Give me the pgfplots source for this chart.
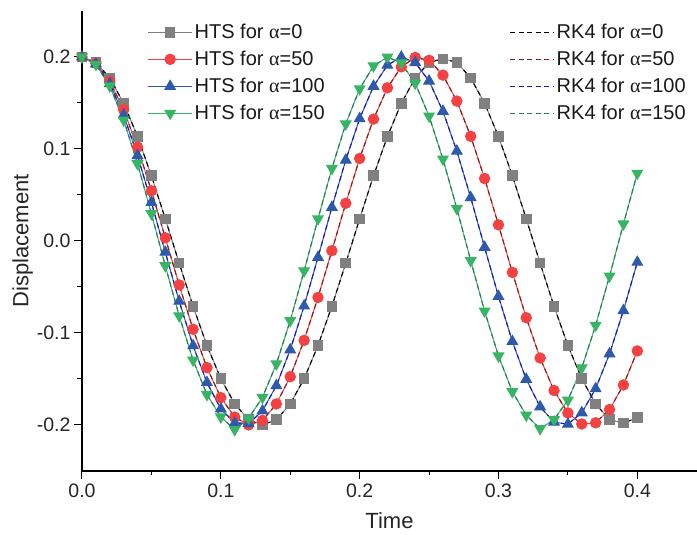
\documentclass[border=0pt]{standalone}
\usepackage{fontspec}
\setmainfont{Liberation Sans}
\newfontfamily\serif{Liberation Serif}
\usepackage{pgfplots}
\usepackage{pgfplotstable}
\pgfplotsset{compat=1.18}
\definecolor{cgray}{RGB}{128,128,128}
\definecolor{cred}{RGB}{245,65,65}
\definecolor{cblue}{RGB}{45,90,170}
\definecolor{cgreen}{RGB}{55,180,100}
\definecolor{dred}{RGB}{140,25,25}
\definecolor{dblue}{RGB}{20,20,210}
\definecolor{dgreen}{RGB}{40,120,90}

\pgfplotstableread{
t a0 a50 a100 a150
0.00 0.2000 0.2000 0.2000 0.2000
0.01 0.1942 0.1933 0.1926 0.1920
0.02 0.1771 0.1738 0.1711 0.1685
0.03 0.1497 0.1427 0.1370 0.1315
0.04 0.1136 0.1020 0.0929 0.0840
0.05 0.0709 0.0546 0.0419 0.0297
0.06 0.0241 0.0035 -0.0122 -0.0269
0.07 -0.0241 -0.0478 -0.0654 -0.0814
0.08 -0.0709 -0.0959 -0.1138 -0.1294
0.09 -0.1136 -0.1377 -0.1538 -0.1670
0.10 -0.1497 -0.1702 -0.1825 -0.1912
0.11 -0.1771 -0.1914 -0.1978 -0.2050
0.12 -0.1942 -0.1999 -0.1985 -0.1927
0.13 -0.2000 -0.1950 -0.1847 -0.1700
0.14 -0.1942 -0.1771 -0.1572 -0.1336
0.15 -0.1771 -0.1475 -0.1183 -0.0866
0.16 -0.1497 -0.1080 -0.0706 -0.0325
0.17 -0.1136 -0.0613 -0.0177 0.0241
0.18 -0.0709 -0.0105 0.0365 0.0789
0.19 -0.0241 0.0410 0.0880 0.1273
0.20 0.0241 0.0897 0.1330 0.1654
0.21 0.0709 0.1325 0.1682 0.1903
0.22 0.1136 0.1665 0.1911 0.1999
0.23 0.1497 0.1893 0.1999 0.1935
0.24 0.1771 0.1995 0.1940 0.1715
0.25 0.1942 0.1964 0.1739 0.1358
0.26 0.1980 0.1803 0.1410 0.0891
0.27 0.1942 0.1521 0.0977 0.0353
0.28 0.1771 0.1138 0.0472 -0.0213
0.29 0.1497 0.0679 -0.0068 -0.0762
0.30 0.1136 0.0175 -0.0602 -0.1250
0.31 0.0709 -0.0341 -0.1092 -0.1638
0.32 0.0241 -0.0834 -0.1503 -0.1894
0.33 -0.0241 -0.1272 -0.1802 -0.2040
0.34 -0.0709 -0.1625 -0.1969 -0.1942
0.35 -0.1136 -0.1869 -0.1991 -0.1730
0.36 -0.1497 -0.1989 -0.1867 -0.1379
0.37 -0.1771 -0.1976 -0.1605 -0.0916
0.38 -0.1942 -0.1832 -0.1226 -0.0381
0.39 -0.1980 -0.1565 -0.0756 0.0185
0.40 -0.1920 -0.1195 -0.0231 0.0736
}\data

\begin{document}
\begin{tikzpicture}
\begin{axis}[
  scale only axis, width=615pt, height=460pt,
  xmin=0, xmax=0.443, ymin=-0.25, ymax=0.25,
  axis x line=bottom, axis y line=left,
  axis line style={-, line width=1.2pt, black},
  tick align=outside, major tick length=8pt, minor tick length=4.5pt,
  tick style={line width=1pt, black},
  xtick={0,0.1,0.2,0.3,0.4}, minor xtick={0.05,0.15,0.25,0.35},
  ytick={-0.2,-0.1,0,0.1,0.2}, minor ytick={-0.15,-0.05,0.05,0.15},
  /pgf/number format/fixed, /pgf/number format/fixed zerofill,
  /pgf/number format/precision=1, /pgf/number format/assume math mode=true,
  ticklabel style={font=\fontsize{19.5}{19.5}\selectfont, text=black!85},
  xticklabel style={yshift=-1pt},
  xlabel={Time}, ylabel={Displacement},
  label style={font=\fontsize{22}{22}\selectfont, text=black!85},
  xlabel style={yshift=-8pt},
  ylabel style={yshift=-3pt},
  legend columns=2,
  legend cell align=left,
  legend style={draw=none, fill=none, at={(axis cs:0.045,0.240)}, anchor=north west,
    font=\fontsize{20}{20}\selectfont, text=black!90, row sep=7pt,
    /tikz/every even column/.append style={column sep=183pt}},
  legend image code/.code={\draw[mark repeat=2, mark phase=2, #1] plot coordinates {(0pt,0pt) (22pt,0pt) (44pt,0pt)};},
]
\addplot[cgray, line width=1pt, mark=square*, mark size=4.8pt, mark options={fill=cgray, draw=cgray}] table[x=t, y=a0] {\data};
\addlegendentry{HTS for {\serif α}=0}
\addplot[black, line width=1.1pt, dash pattern=on 5pt off 3.5pt] table[x=t, y=a0] {\data};
\addlegendentry{RK4 for {\serif α}=0}
\addplot[cred, line width=1pt, mark=*, mark size=5.2pt, mark options={fill=cred, draw=cred}] table[x=t, y=a50] {\data};
\addlegendentry{HTS for {\serif α}=50}
\addplot[dred, line width=1.1pt, dash pattern=on 5pt off 3.5pt] table[x=t, y=a50] {\data};
\addlegendentry{RK4 for {\serif α}=50}
\addplot[cblue, line width=1pt, mark=triangle*, mark size=6pt, mark options={fill=cblue, draw=cblue}] table[x=t, y=a100] {\data};
\addlegendentry{HTS for {\serif α}=100}
\addplot[dblue, line width=1.1pt, dash pattern=on 5pt off 3.5pt] table[x=t, y=a100] {\data};
\addlegendentry{RK4 for {\serif α}=100}
\addplot[cgreen, line width=1pt, mark=triangle*, mark size=6pt, mark options={fill=cgreen, draw=cgreen, rotate=180}] table[x=t, y=a150] {\data};
\addlegendentry{HTS for {\serif α}=150}
\addplot[dgreen, line width=1.1pt, dash pattern=on 5pt off 3.5pt] table[x=t, y=a150] {\data};
\addlegendentry{RK4 for {\serif α}=150}
\end{axis}
\pgfresetboundingbox
\path[use as bounding box] ([shift={(-82pt,-64pt)}]current axis.south west) rectangle ([shift={(0pt,11pt)}]current axis.north east);
\end{tikzpicture}
\end{document}
